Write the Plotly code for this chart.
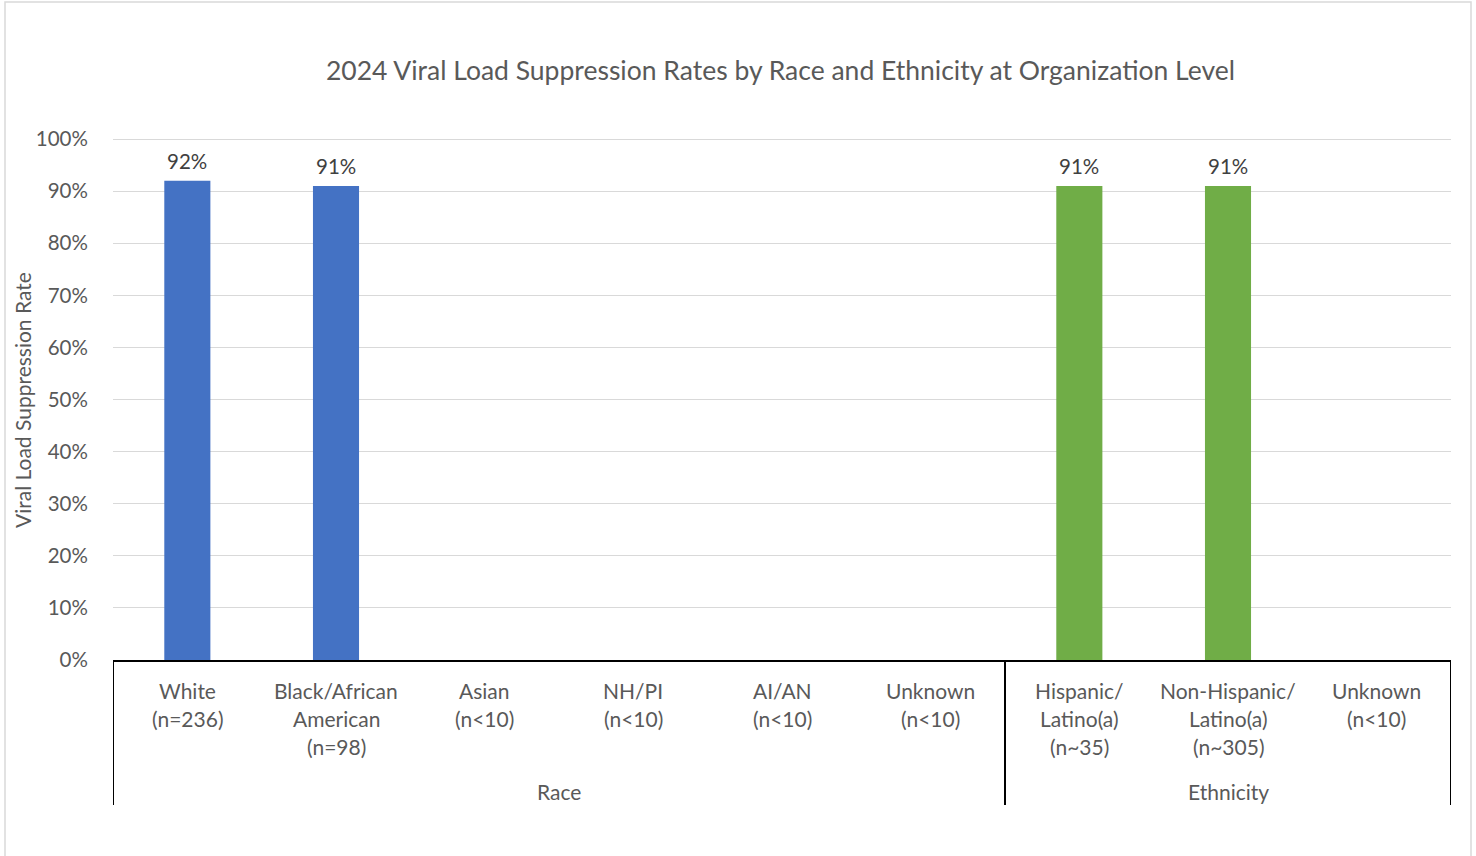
import plotly.graph_objects as go

# ---- data ----
categories = ["White\n(n=236)", "Black/African\nAmerican\n(n=98)", "Asian\n(n<10)",
              "NH/PI\n(n<10)", "AI/AN\n(n<10)", "Unknown\n(n<10)",
              "Hispanic/\nLatino(a)\n(n~35)", "Non-Hispanic/\nLatino(a)\n(n~305)", "Unknown\n(n<10)"]
groups = ["Race", "Race", "Race", "Race", "Race", "Race", "Ethnicity", "Ethnicity", "Ethnicity"]
rates = [92, 91, None, None, None, None, 91, 91, None]
group_names = ["Race", "Ethnicity"]
group_colors = {"Race": "#4472C4", "Ethnicity": "#70AD47"}
y_ticks = [0, 10, 20, 30, 40, 50, 60, 70, 80, 90, 100]
y_tick_labels = [f"{v}%" for v in y_ticks]

# ---- layout geometry (pixels) ----
W, H = 1476, 856
L, R, T, B = 113, 1451, 138, 660
pw, ph = R - L, B - T
FONT = "Lato"
TXT = "#595959"

def px_x(px):
    return (px - L) / pw

def px_y(py):
    return (B - py) / ph

xs = list(range(len(categories)))
fig = go.Figure()
fig.add_trace(go.Bar(
    x=xs, y=rates,
    marker=dict(color=[group_colors[g] for g in groups], line=dict(width=0)),
    width=0.31,
    hoverinfo="x+y",
))

annotations = []
shapes = []
# data labels
for i, v in enumerate(rates):
    if v is not None:
        annotations.append(dict(x=i, xref="x", y=v, yref="y", yshift=20,
                                text=f"{v}%", showarrow=False, yanchor="middle",
                                font=dict(family=FONT, size=20.5, color="#404040")))
# category labels
for i, lab in enumerate(categories):
    for j, line in enumerate(lab.split("\n")):
        annotations.append(dict(x=i, xref="x", y=px_y(690 + 28 * j), yref="paper",
                                text=line, showarrow=False, yanchor="middle",
                                font=dict(family=FONT, size=21, color=TXT)))
# group labels and separators
bounds = []
for g in group_names:
    idx = [i for i, gg in enumerate(groups) if gg == g]
    lo, hi = idx[0] - 0.5, idx[-1] + 0.5
    bounds += [lo, hi]
    annotations.append(dict(x=(lo + hi) / 2, xref="x", y=px_y(791), yref="paper",
                            text=g, showarrow=False, yanchor="middle",
                            font=dict(family=FONT, size=21, color=TXT)))
for bx in sorted(set(bounds)):
    shapes.append(dict(type="line", xref="x", yref="paper", x0=bx, x1=bx,
                       y0=0, y1=px_y(805), line=dict(color="black", width=2)))

# y axis title
annotations.append(dict(x=px_x(22), xref="paper", y=px_y(400), yref="paper",
                        text="Viral Load Suppression Rate", textangle=-90,
                        showarrow=False, xanchor="center", yanchor="middle",
                        font=dict(family=FONT, size=21, color=TXT)))
# chart title
annotations.append(dict(x=px_x(780), xref="paper", y=px_y(70), yref="paper",
                        text="2024 Viral Load Suppression Rates by Race and Ethnicity at Organization Level",
                        showarrow=False, xanchor="center", yanchor="middle",
                        font=dict(family=FONT, size=26.5, color=TXT)))
# outer border
shapes.append(dict(type="rect", xref="paper", yref="paper",
                   x0=px_x(5), x1=px_x(1471), y0=px_y(2), y1=px_y(868),
                   line=dict(color="#d9d9d9", width=1.5)))

fig.update_layout(
    width=W, height=H,
    margin=dict(l=L, r=W - R, t=T, b=H - B),
    paper_bgcolor="white", plot_bgcolor="white",
    showlegend=False,
    xaxis=dict(range=[-0.5, len(categories) - 0.5], showticklabels=False,
               showgrid=False, zeroline=False, showline=True,
               linecolor="black", linewidth=2, fixedrange=True),
    yaxis=dict(range=[0, 100.2], tickvals=y_ticks, ticktext=y_tick_labels,
               showgrid=True, gridcolor="#d9d9d9", gridwidth=1,
               zeroline=False, ticks="outside", ticklen=20,
               tickcolor="rgba(0,0,0,0)",
               tickfont=dict(family=FONT, size=20.5, color=TXT)),
    annotations=annotations, shapes=shapes,
    font=dict(family=FONT, color=TXT),
)

fig.write_html("out.html")
